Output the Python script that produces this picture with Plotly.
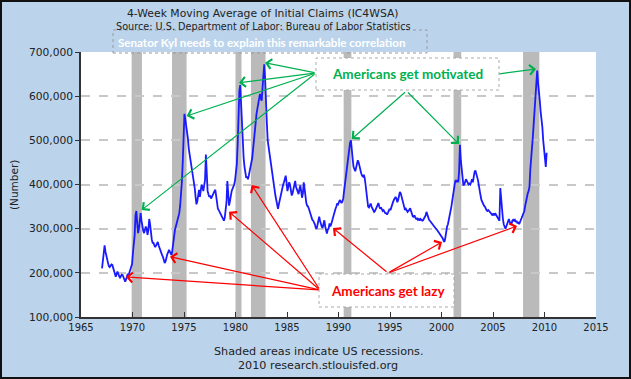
import plotly.graph_objects as go

# Monthly values (thousands) of the 4-week moving average of initial claims
claims_1960s = [
    210, 228, 255, 262, 248, 236, 229, 222, 215, 213, 216, 219,   # 1967
    218, 210, 204, 196, 191, 198, 203, 197, 190, 188, 193, 196,   # 1968
    195, 188, 183, 180, 185, 190, 198, 195, 201, 208, 212, 220,   # 1969
]
claims_1970s = [
    245, 262, 285, 330, 340, 312, 290, 300, 325, 335, 318, 302,   # 1970
    295, 290, 296, 305, 300, 286, 298, 322, 310, 288, 275, 268,   # 1971
    268, 262, 258, 262, 268, 270, 262, 255, 248, 245, 240, 236,   # 1972
    230, 222, 226, 236, 242, 246, 252, 248, 244, 240, 252, 272,   # 1973
    292, 298, 305, 312, 318, 322, 335, 352, 372, 405, 448, 500,   # 1974
    560, 548, 535, 528, 505, 482, 470, 458, 445, 432, 418, 405,   # 1975
    392, 372, 355, 362, 380, 388, 372, 392, 400, 395, 385, 398,   # 1976
    410, 468, 420, 385, 378, 372, 375, 368, 372, 378, 380, 385,   # 1977
    388, 370, 352, 345, 342, 338, 335, 330, 328, 322, 318, 325,   # 1978
    340, 360, 408, 370, 352, 362, 380, 385, 390, 395, 400, 410,   # 1979
]
claims_1980s = [
    425, 445, 490, 555, 612, 625, 575, 530, 490, 460, 440, 420,   # 1980
    415, 418, 412, 420, 430, 440, 445, 460, 480, 505, 530, 545,   # 1981
    560, 572, 585, 600, 605, 595, 590, 620, 650, 672, 640, 605,   # 1982
    540, 500, 485, 470, 455, 440, 432, 420, 400, 385, 375, 365,   # 1983
    350, 345, 355, 365, 370, 380, 395, 400, 405, 415, 420, 405,   # 1984
    385, 395, 405, 400, 385, 375, 380, 390, 405, 408, 395, 388,   # 1985
    383, 378, 390, 398, 385, 370, 380, 405, 390, 372, 358, 352,   # 1986
    350, 345, 338, 332, 325, 320, 318, 315, 310, 302, 300, 308,   # 1987
    318, 327, 318, 310, 304, 302, 310, 319, 305, 295, 289, 298,   # 1988
    300, 312, 305, 310, 318, 328, 335, 340, 345, 350, 357, 355,   # 1989
]
claims_1990s = [
    360, 365, 362, 358, 361, 368, 385, 402, 420, 440, 450, 460,   # 1990
    478, 495, 500, 470, 458, 440, 435, 430, 438, 448, 455, 450,   # 1991
    440, 432, 425, 420, 418, 422, 415, 400, 380, 360, 350, 348,   # 1992
    352, 357, 350, 345, 340, 338, 340, 345, 350, 355, 358, 350,   # 1993
    345, 348, 342, 340, 342, 338, 335, 335, 332, 336, 340, 345,   # 1994
    342, 350, 355, 360, 365, 370, 372, 368, 360, 365, 375, 383,   # 1995
    380, 372, 362, 357, 352, 342, 345, 342, 338, 340, 344, 346,   # 1996
    340, 332, 328, 327, 330, 325, 322, 323, 320, 322, 318, 322,   # 1997
    320, 318, 319, 322, 325, 330, 338, 330, 325, 320, 318, 315,   # 1998
    312, 310, 308, 305, 302, 300, 298, 295, 292, 290, 288, 285,   # 1999
]
claims_2000s = [
    282, 278, 272, 270, 280, 297, 305, 310, 318, 330, 340, 350,   # 2000
    365, 375, 390, 402, 410, 405, 410, 405, 430, 490, 455, 430,   # 2001
    405, 398, 400, 410, 412, 408, 405, 400, 402, 400, 405, 412,   # 2002
    405, 420, 428, 432, 425, 420, 410, 398, 390, 375, 365, 360,   # 2003
    355, 352, 350, 345, 342, 340, 342, 340, 338, 335, 332, 330,   # 2004
    335, 330, 335, 332, 326, 325, 320, 318, 392, 370, 330, 323,   # 2005
    310, 304, 300, 305, 312, 318, 322, 315, 312, 310, 318, 320,   # 2006
    318, 320, 315, 318, 312, 315, 310, 315, 318, 322, 326, 335,   # 2007
    340, 352, 365, 375, 380, 385, 395, 435, 455, 480, 510, 540,   # 2008
    575, 615, 650, 658, 630, 615, 590, 565, 550, 530, 500, 475,   # 2009
]
claims_2010s = [455, 440, 472]                                    # 2010

first_year = 1967
recession_start = ["1969-12", "1973-11", "1980-01", "1981-07", "1990-07", "2001-03", "2007-12"]
recession_end = ["1970-11", "1975-03", "1980-07", "1982-11", "1991-03", "2001-11", "2009-06"]
year_ticks = [1965, 1970, 1975, 1980, 1985, 1990, 1995, 2000, 2005, 2010, 2015]
value_ticks = [100000, 200000, 300000, 400000, 500000, 600000, 700000]

claims = claims_1960s + claims_1970s + claims_1980s + claims_1990s + claims_2000s + claims_2010s
x_vals = [first_year + (i + 0.5) / 12 for i in range(len(claims))]
y_vals = [v * 1000 for v in claims]


def ym(s, end=False):
    y, m = s.split("-")
    return int(y) + (int(m) - (0 if end else 1)) / 12


# layout geometry (pixels)
W, H = 631, 379
L, R, T, B = 81, 35, 52, 62
PW, PH = W - L - R, H - T - B


def xp(px):
    return (px - L) / PW


def yp(py):
    return (H - B - py) / PH


def dx(px):
    return 1965 + (px - L) * 50 / PW


def dy(py):
    return 100000 + (H - B - py) * 600000 / PH


fig = go.Figure()
fig.add_trace(go.Scatter(x=x_vals, y=y_vals, mode="lines",
                         line=dict(color="#1a1aff", width=1.8), hoverinfo="skip"))

shapes = []
for s, e in zip(recession_start, recession_end):
    shapes.append(dict(type="rect", xref="x", yref="paper", x0=ym(s), x1=ym(e, True),
                       y0=0, y1=1, fillcolor="#bababa", line=dict(width=0), layer="below"))

# outer frame
shapes.append(dict(type="rect", xref="paper", yref="paper", x0=xp(1), x1=xp(W - 1),
                   y0=yp(H - 1), y1=yp(1), line=dict(color="#111111", width=2),
                   fillcolor="rgba(0,0,0,0)", layer="above"))
# headline box
shapes.append(dict(type="rect", xref="paper", yref="paper", x0=xp(113), x1=xp(427),
                   y0=yp(53), y1=yp(30), line=dict(color="#999999", width=1, dash="dot"),
                   fillcolor="rgba(0,0,0,0)", layer="above"))
# motivated box
shapes.append(dict(type="rect", xref="paper", yref="paper", x0=xp(316), x1=xp(499),
                   y0=yp(90), y1=yp(58), line=dict(color="#aaaaaa", width=1, dash="dot"),
                   fillcolor="white", layer="above"))
# lazy box
shapes.append(dict(type="rect", xref="paper", yref="paper", x0=xp(319), x1=xp(454),
                   y0=yp(307), y1=yp(274), line=dict(color="#aaaaaa", width=1, dash="dot"),
                   fillcolor="white", layer="above"))

ann = []
txt_font = "DejaVu Sans"


def label(px, py, text, size, color="#222222", family=txt_font, angle=0):
    return dict(xref="paper", yref="paper", x=xp(px), y=yp(py), xanchor="center",
                yanchor="middle", showarrow=False, text=text, textangle=angle,
                font=dict(family=family, size=size, color=color))


ann.append(label(263, 13, "4-Week Moving Average of Initial Claims (IC4WSA)", 10.8))
ann.append(label(263, 26, "Source: U.S. Department of Labor: Bureau of Labor Statistics", 9.7))
ann.append(label(318, 351, "Shaded areas indicate US recessions.", 11.2))
ann.append(label(318, 365, "2010 research.stlouisfed.org", 11.2))
ann.append(label(14, 185, "(Number)", 10.5, angle=-90))
ann.append(label(262, 42, "<b>Senator Kyl needs to explain this remarkable correlation</b>",
                 11.6, color="white", family="Lato"))
ann.append(label(407, 74, "<b>Americans get motivated</b>", 13.5, color="#00b050", family="Lato"))
ann.append(label(388, 291, "<b>Americans get lazy</b>", 13.5, color="#ff0000", family="Lato"))

green_arrows = [((316, 73), (141.7, 210)), ((316, 73), (186.7, 116)), ((316, 73), (239, 82.7)),
                ((316, 73), (265, 62.7)), ((406.5, 91), (351.7, 139)), ((406.5, 91), (459, 144)),
                ((498, 74), (536, 69))]
red_arrows = [((320, 290), (126, 277)), ((320, 290), (170, 256.7)), ((320, 290), (229, 211.7)),
              ((320, 290), (251.7, 185)), ((388, 273), (333, 228)), ((388, 273), (442, 242)),
              ((388, 273), (517, 226))]
for arrows, col in ((green_arrows, "#00b050"), (red_arrows, "#ff0000")):
    for (tx, ty), (hx, hy) in arrows:
        ann.append(dict(x=dx(hx), y=dy(hy), xref="x", yref="y", ax=dx(tx), ay=dy(ty),
                        axref="x", ayref="y", text="", showarrow=True, arrowhead=4,
                        arrowsize=1.6, arrowwidth=1.2, arrowcolor=col, standoff=0))

fig.update_layout(
    width=W, height=H, margin=dict(l=L, r=R, t=T, b=B),
    paper_bgcolor="#bbd4ec", plot_bgcolor="white", showlegend=False,
    shapes=shapes, annotations=ann,
    xaxis=dict(range=[1965, 2015], tickvals=year_ticks, ticktext=[str(t) for t in year_ticks],
               showgrid=False, zeroline=False, showline=True, linecolor="#333333", linewidth=1.5,
               ticks="inside", ticklen=5, tickcolor="#333333",
               tickfont=dict(family=txt_font, size=10, color="#222222")),
    yaxis=dict(range=[100000, 700000], tickvals=value_ticks, tickformat=",d",
               showgrid=True, gridcolor="#c8c8c8", gridwidth=1.5, griddash="dash",
               zeroline=False, showline=True, linecolor="#333333", linewidth=1.5,
               ticks="outside", ticklen=4, tickcolor="#333333",
               tickfont=dict(family=txt_font, size=10.7, color="#222222")),
)

fig.write_html("out.html", config={"displayModeBar": False},
               post_script="document.body.style.margin='0';")
